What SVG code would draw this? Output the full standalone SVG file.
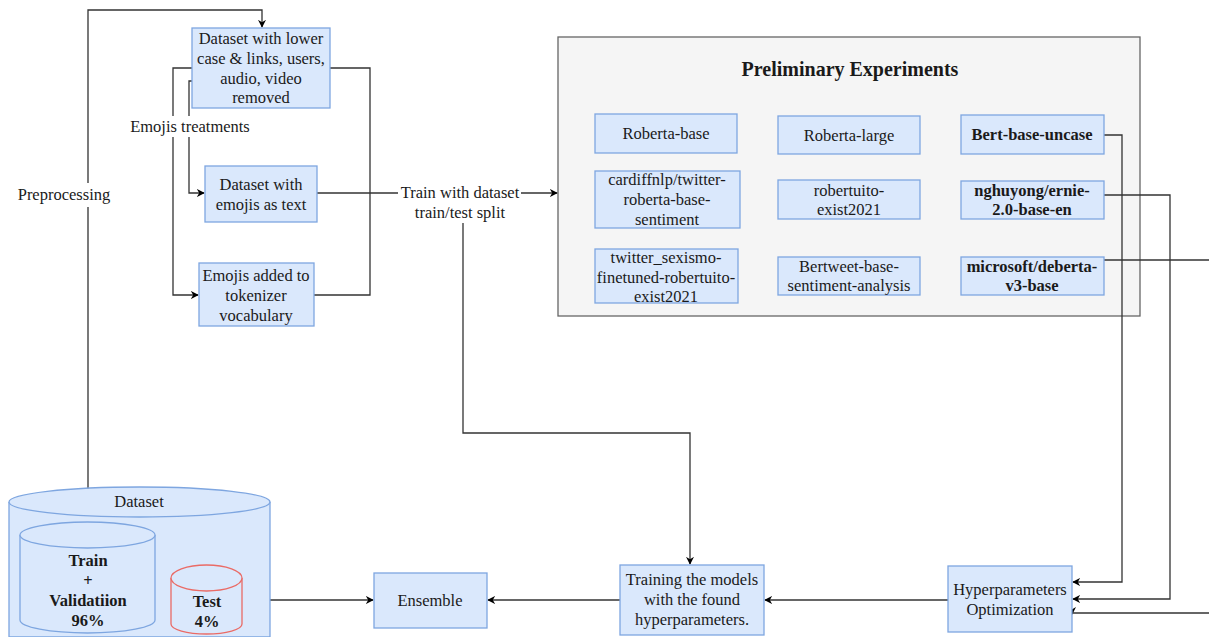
<svg xmlns="http://www.w3.org/2000/svg" width="1209" height="637" viewBox="0 0 1209 637" font-family="'Liberation Serif', 'DejaVu Serif', serif">
<style>
text{font-family:'Liberation Serif','DejaVu Serif',serif;font-size:16.5px;fill:#1a1a1a;text-anchor:middle}
.b{font-weight:bold}
.box{fill:#dae8fc;stroke:#7ea6e0;stroke-width:1.3}
.ln{fill:none;stroke:#333;stroke-width:1.3}
.lbl{fill:#fff}
</style>
<defs>
<marker id="ar" viewBox="0 0 10 10" refX="9" refY="5" markerWidth="8" markerHeight="8" orient="auto" markerUnits="userSpaceOnUse">
<path d="M0,0 L10,5 L0,10 L3,5 Z" fill="#000"/>
</marker>
</defs>
<rect width="1209" height="637" fill="#fff"/>

<g id="container">
<rect x="558" y="37" width="582" height="279" fill="#f5f5f5" stroke="#666" stroke-width="1.3"/>
<text x="850" y="76" class="b" style="font-size:20px">Preliminary Experiments</text>
</g>

<g id="connectors">
<path class="ln" d="M88,522 V10 H262 V27" marker-end="url(#ar)"/>
<path class="ln" d="M192,68 H173 V295 H198" marker-end="url(#ar)"/>
<path class="ln" d="M192,81 H189 V193 H204" marker-end="url(#ar)"/>
<path class="ln" d="M330,68 H370 V295 H314"/>
<path class="ln" d="M317,193 H557" marker-end="url(#ar)"/>
<path class="ln" d="M463,215 V433 H690 V564" marker-end="url(#ar)"/>
<path class="ln" d="M1104,135 H1122 V582 H1073" marker-end="url(#ar)"/>
<path class="ln" d="M1104,195 H1170 V599 H1073" marker-end="url(#ar)"/>
<path class="ln" d="M1104,260 H1209"/>
<path class="ln" d="M1209,613 H1071"/>
<path d="M1066,607 L1071,617 L1076,607 L1071,610 Z" fill="#000"/>
<path class="ln" d="M948,600 H765" marker-end="url(#ar)"/>
<path class="ln" d="M620,600 H488" marker-end="url(#ar)"/>
<path class="ln" d="M242,600 H373" marker-end="url(#ar)"/>
<rect class="lbl" x="16" y="183" width="97" height="24"/>
<text x="64" y="200">Preprocessing</text>
<rect class="lbl" x="128" y="116" width="124" height="21"/>
<text x="190" y="132">Emojis treatments</text>
<rect class="lbl" x="398" y="182" width="123" height="41"/>
<text x="460" y="198">Train with dataset</text>
<text x="460" y="218">train/test split</text>
</g>

<g id="n-clean">
<rect class="box" x="192" y="28" width="138" height="80"/>
<text x="261" y="44">Dataset with lower</text>
<text x="261" y="64">case &amp; links, users,</text>
<text x="261" y="84">audio, video</text>
<text x="261" y="103">removed</text>
</g>
<g id="n-emojitext">
<rect class="box" x="205" y="166" width="112" height="56"/>
<text x="261" y="190">Dataset with</text>
<text x="261" y="210">emojis as text</text>
</g>
<g id="n-emojitok">
<rect class="box" x="199" y="263" width="115" height="63"/>
<text x="256" y="281">Emojis added to</text>
<text x="256" y="301">tokenizer</text>
<text x="256" y="321">vocabulary</text>
</g>

<g id="m-roberta-base">
<rect class="box" x="595" y="114" width="142" height="39"/>
<text x="666" y="139">Roberta-base</text>
</g>
<g id="m-cardiff">
<rect class="box" x="595" y="171" width="145" height="57"/>
<text x="667" y="185">cardiffnlp/twitter-</text>
<text x="667" y="205">roberta-base-</text>
<text x="667" y="225">sentiment</text>
</g>
<g id="m-sexismo">
<rect class="box" x="595" y="249" width="143" height="54"/>
<text x="666" y="263">twitter_sexismo-</text>
<text x="666" y="283">finetuned-robertuito-</text>
<text x="666" y="302">exist2021</text>
</g>
<g id="m-roberta-large">
<rect class="box" x="778" y="116" width="142" height="38"/>
<text x="849" y="141">Roberta-large</text>
</g>
<g id="m-robertuito">
<rect class="box" x="778" y="180" width="142" height="39"/>
<text x="849" y="196">robertuito-</text>
<text x="849" y="215">exist2021</text>
</g>
<g id="m-bertweet">
<rect class="box" x="778" y="257" width="142" height="38"/>
<text x="849" y="272">Bertweet-base-</text>
<text x="849" y="291">sentiment-analysis</text>
</g>
<g id="m-bert">
<rect class="box" x="961" y="115" width="143" height="39"/>
<text x="1032" y="140" class="b">Bert-base-uncase</text>
</g>
<g id="m-ernie">
<rect class="box" x="961" y="181" width="143" height="38"/>
<text x="1032" y="196" class="b">nghuyong/ernie-</text>
<text x="1032" y="215" class="b">2.0-base-en</text>
</g>
<g id="m-deberta">
<rect class="box" x="961" y="257" width="143" height="38"/>
<text x="1032" y="272" class="b">microsoft/deberta-</text>
<text x="1032" y="291" class="b">v3-base</text>
</g>

<g id="n-hyper">
<rect class="box" x="948" y="566" width="124" height="66"/>
<text x="1010" y="595">Hyperparameters</text>
<text x="1010" y="615">Optimization</text>
</g>
<g id="n-training">
<rect class="box" x="620" y="565" width="144" height="70"/>
<text x="692" y="585">Training the models</text>
<text x="692" y="605">with the found</text>
<text x="692" y="625">hyperparameters.</text>
</g>
<g id="n-ensemble">
<rect class="box" x="374" y="573" width="113" height="55"/>
<text x="430" y="606">Ensemble</text>
</g>

<g id="n-dataset">
<path class="box" d="M9,502 V637 H270 V502"/>
<ellipse class="box" cx="139.5" cy="502" rx="130.5" ry="15"/>
<text x="139" y="507">Dataset</text>
</g>
<g id="n-train">
<path class="box" d="M20,535 V620 A67.5,13 0 0 0 155,620 V535"/>
<ellipse class="box" cx="87.5" cy="535" rx="67.5" ry="13"/>
<text x="88" y="566" class="b">Train</text>
<text x="88" y="586" class="b">+</text>
<text x="88" y="606" class="b">Validatiion</text>
<text x="88" y="626" class="b">96%</text>
</g>
<g id="n-test">
<path d="M171,578 V624 A35.5,10 0 0 0 242,624 V578" fill="#dae8fc" stroke="#ea6b66" stroke-width="1.3"/>
<ellipse cx="206.5" cy="578" rx="35.5" ry="13" fill="#dae8fc" stroke="#ea6b66" stroke-width="1.3"/>
<text x="207" y="607" class="b">Test</text>
<text x="207" y="627" class="b">4%</text>
</g>
</svg>
